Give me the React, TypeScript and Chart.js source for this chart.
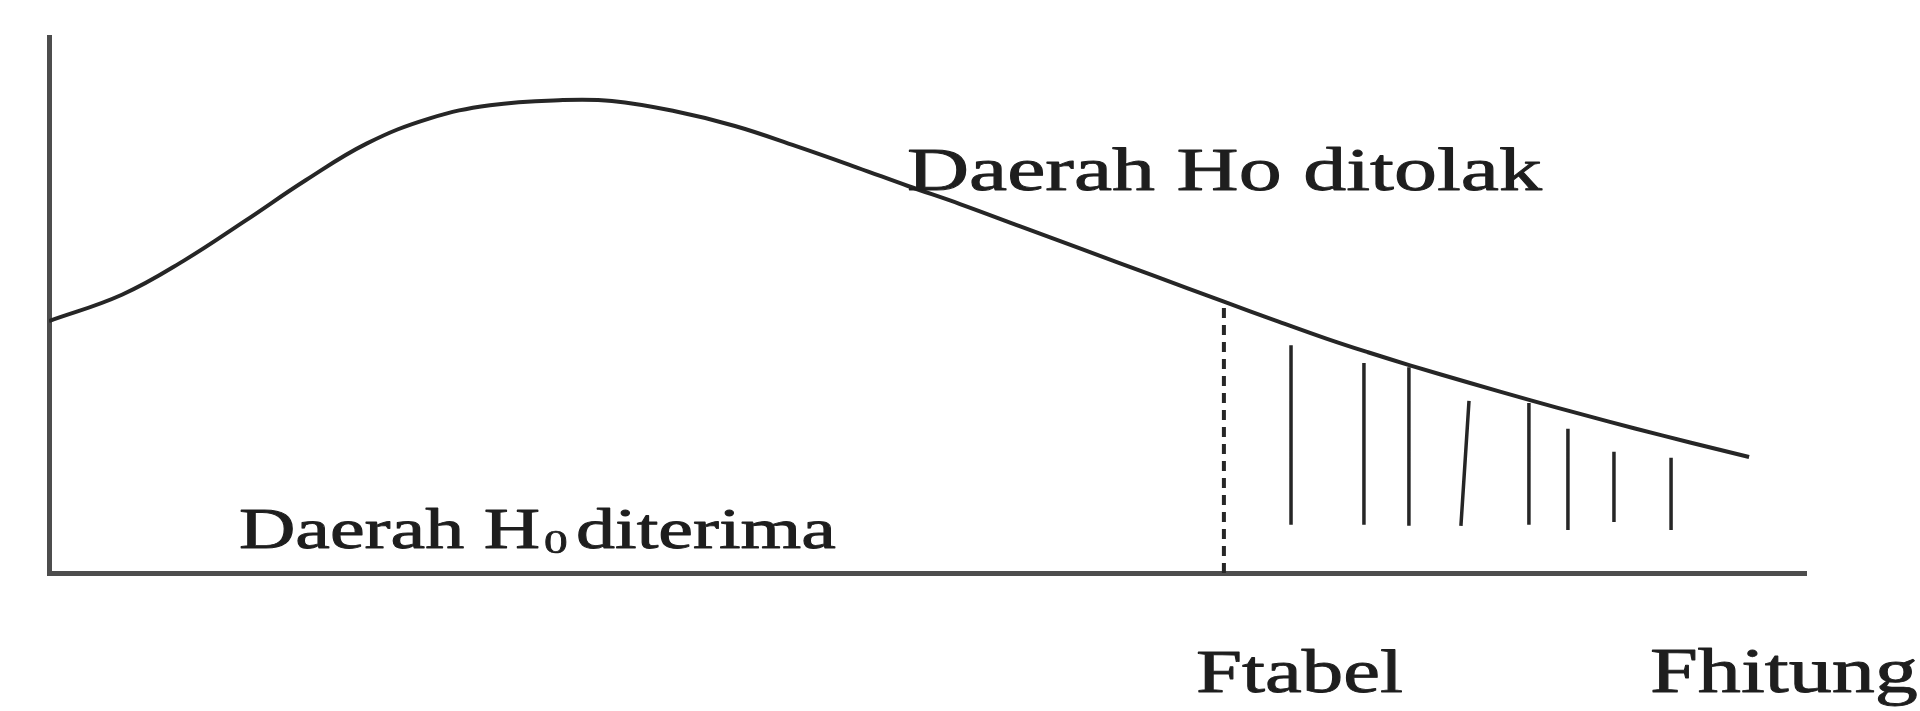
import React, { useEffect, useRef } from "react";
import { Chart, registerables } from "chart.js";

Chart.register(...registerables);

// F-distribution sketch: curve samples (x along F axis, y = density, both in % of axis length)
const curveX = [0, 4.15, 7.68, 11.16, 14.63, 18.1, 21.63, 25.1, 29.25, 32.04, 35.57, 39.04, 42.52, 45.99, 48.89, 51.85, 55.32, 58.79, 62.83, 66.87, 69.78, 72.74, 75.07, 77.46, 80.88, 84.29, 87.25, 90.21, 93.4, 96.76];
const curveY = [47.01, 51.92, 58.28, 65.69, 73.32, 80.15, 84.78, 87.28, 88.23, 88.06, 86.19, 83.4, 79.64, 75.65, 72.2, 68.84, 64.63, 60.43, 55.52, 50.62, 47.15, 43.69, 41.18, 38.75, 35.45, 32.26, 29.59, 27.01, 24.35, 21.64];

// critical value (Ftabel) marker
const fTabelX = 66.87;
const fTabelTop = 50.3;

// hatching strokes in the rejection region
const hatchTopX = [70.69, 74.84, 77.4, 80.82, 84.23, 86.45, 89.07, 92.32];
const hatchTopY = [42.5, 39.2, 38.4, 32.1, 31.7, 26.9, 22.6, 21.5];
const hatchBottomX = [70.69, 74.84, 77.4, 80.36, 84.23, 86.45, 89.07, 92.32];
const hatchBottomY = [9.0, 9.0, 8.8, 8.8, 9.0, 8.0, 9.5, 8.0];

// texts
const textRejected = "Daerah Ho ditolak";
const textAcceptedHead = "Daerah H";
const textAcceptedSub = "0";
const textAcceptedTail = "diterima";
const textFTabel = "Ftabel";
const textFHitung = "Fhitung";

const FONT = '"Liberation Serif", "Times New Roman", serif';
const INK = "#1e1e1e";

function drawFit(ctx: CanvasRenderingContext2D, text: string, size: number, left: number, right: number, base: number): number {
  ctx.font = `${size}px ${FONT}`;
  const w = ctx.measureText(text).width;
  const sx = (right - left) / w;
  ctx.save();
  ctx.translate(left, base);
  ctx.scale(sx, 1);
  ctx.fillText(text, 0, 0);
  ctx.lineWidth = 0.9;
  ctx.strokeText(text, 0, 0);
  ctx.restore();
  return sx;
}

const textPlugin = {
  id: "sketchTexts",
  afterDraw(chart: any) {
    const ctx: CanvasRenderingContext2D = chart.ctx;
    const xs = chart.scales.x;
    const ys = chart.scales.y;
    const px = (v: number) => xs.getPixelForValue(v);
    const py = (v: number) => ys.getPixelForValue(v);
    ctx.save();
    ctx.fillStyle = INK;
    ctx.strokeStyle = INK;
    ctx.lineJoin = "round";
    ctx.textBaseline = "alphabetic";
    ctx.textAlign = "left";

    drawFit(ctx, textRejected, 61, px(48.83), px(84.97), py(71.46));

    const sx = drawFit(ctx, textAcceptedHead, 56, px(10.81), px(27.95), py(4.66));
    ctx.font = `34px ${FONT}`;
    ctx.save();
    ctx.translate(px(28.17), py(3.73));
    ctx.scale(sx, 1);
    ctx.fillText(textAcceptedSub, 0, 0);
    ctx.lineWidth = 0.7;
    ctx.strokeText(textAcceptedSub, 0, 0);
    ctx.restore();
    drawFit(ctx, textAcceptedTail, 56, px(29.99), px(44.79), py(4.66));

    drawFit(ctx, textFTabel, 61, px(65.28), px(77.06), py(-22.2));
    drawFit(ctx, textFHitung, 63, px(91.12), px(106.37), py(-22.2));
    ctx.restore();
  },
};

export default function App() {
  const ref = useRef<HTMLCanvasElement>(null);

  useEffect(() => {
    document.body.style.margin = "0";
    const hatchData: any[] = [];
    hatchTopX.forEach((tx, i) => {
      hatchData.push({ x: hatchBottomX[i], y: hatchBottomY[i] });
      hatchData.push({ x: tx, y: hatchTopY[i] });
      hatchData.push({ x: tx, y: null });
    });

    const chart = new Chart(ref.current as HTMLCanvasElement, {
      type: "line",
      data: {
        datasets: [
          {
            data: curveX.map((x, i) => ({ x, y: curveY[i] })),
            borderColor: "#262626",
            borderWidth: 4,
            pointRadius: 0,
            tension: 0.4,
            fill: false,
          },
          {
            data: [
              { x: fTabelX, y: 0 },
              { x: fTabelX, y: fTabelTop },
            ],
            borderColor: "#262626",
            borderWidth: 4,
            borderDash: [10, 7],
            pointRadius: 0,
            fill: false,
          },
          {
            data: hatchData,
            borderColor: "#262626",
            borderWidth: 3.5,
            pointRadius: 0,
            spanGaps: false,
            tension: 0,
            fill: false,
          },
        ] as any,
      },
      options: {
        animation: false,
        responsive: false,
        devicePixelRatio: 1,
        layout: { padding: { left: 49, right: 114, top: 37, bottom: 138 } },
        plugins: { legend: { display: false }, tooltip: { enabled: false } },
        scales: {
          x: {
            type: "linear",
            min: 0,
            max: 100,
            grid: { display: false },
            ticks: { display: false },
            border: { display: true, width: 5, color: "#4d4d4d" },
            afterFit: (s: any) => {
              s.height = 0;
            },
          },
          y: {
            type: "linear",
            min: 0,
            max: 100,
            grid: { display: false },
            ticks: { display: false },
            border: { display: true, width: 5, color: "#4d4d4d" },
            afterFit: (s: any) => {
              s.width = 0;
            },
          },
        },
      } as any,
      plugins: [textPlugin],
    });
    return () => chart.destroy();
  }, []);

  return (
    <div style={{ position: "absolute", left: 0, top: 0, width: 1920, height: 711, background: "#ffffff" }}>
      <canvas ref={ref} width={1920} height={711} style={{ display: "block", width: 1920, height: 711 }} />
    </div>
  );
}
